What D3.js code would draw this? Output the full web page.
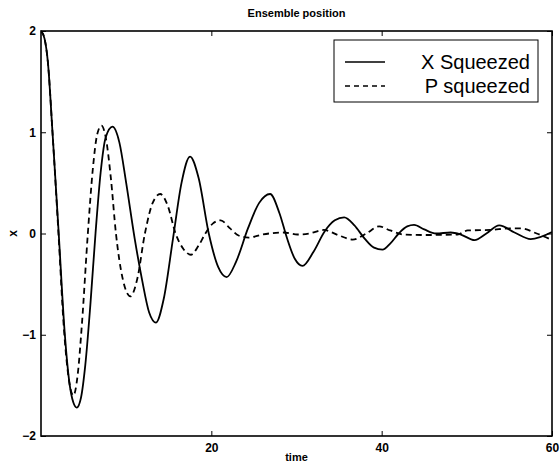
<!DOCTYPE html>
<html><head><meta charset="utf-8">
<script src="https://cdn.jsdelivr.net/npm/d3@7"></script>
<style>body{margin:0;background:#fff}svg{display:block;font-family:"Liberation Sans",Arial,sans-serif}</style>
</head><body><svg id="c" width="560" height="465"></svg>
<script>
const title = "Ensemble position";
const xLabel = "time";
const yLabel = "x";
const seriesNames = ["X Squeezed", "P squeezed"];
const xTicks = [20, 40, 60];
const yTicks = [-2, -1, 0, 1, 2];

const xSqT = [0,0.4,0.8,1.35,2.08,2.8,3.3,3.8,4.2,4.7,5.2,5.8,6.4,7.0,7.6,8.4,9.2,10.0,11.0,11.85,12.7,13.5,14.4,15.5,16.5,17.5,18.5,19.7,20.8,21.8,22.9,24.3,25.6,26.9,28.0,28.9,29.8,30.7,32.0,33.3,34.5,35.6,36.8,38.0,39.1,40.1,41.0,42.0,43.0,43.8,45.0,46.4,48.1,49.3,50.9,52.3,53.8,55.6,57.5,60];
const xSqV = [2.0,1.93,1.7,1.0,0.0,-1.0,-1.45,-1.67,-1.72,-1.62,-1.3,-0.7,0.0,0.6,0.95,1.055,0.9,0.5,-0.05,-0.45,-0.78,-0.88,-0.65,-0.05,0.5,0.76,0.55,0.0,-0.33,-0.43,-0.28,0.05,0.3,0.39,0.2,-0.05,-0.25,-0.32,-0.18,0.02,0.13,0.16,0.08,-0.05,-0.14,-0.16,-0.1,0.0,0.07,0.085,0.04,0.0,0.01,-0.01,-0.065,0.0,0.08,0.01,-0.055,0.015];

const pSqT = [0,0.4,0.8,1.35,2.05,2.7,3.2,3.8,4.3,4.8,5.5,6.1,6.6,7.1,7.6,8.2,8.8,9.6,10.5,11.3,12.2,13.1,14.0,14.9,15.8,16.7,17.6,18.5,19.3,20.2,21.1,22.2,23.2,24.4,26.0,28.5,30.1,31.5,33.2,35.0,36.6,38.2,39.7,41.0,42.6,45.0,48.9,50.1,52.8,55.0,56.4,58.2,60];
const pSqV = [2.0,1.93,1.7,1.0,0.0,-0.95,-1.4,-1.6,-1.4,-0.9,0.0,0.65,0.98,1.065,0.95,0.55,0.0,-0.45,-0.62,-0.45,0.0,0.3,0.39,0.27,0.0,-0.15,-0.21,-0.12,0.0,0.1,0.13,0.05,-0.02,-0.04,-0.01,0.01,-0.01,0.0,0.035,-0.02,-0.06,0.0,0.07,0.03,-0.01,-0.015,-0.01,0.03,0.035,0.05,0.05,0.0,-0.065];

const svg = d3.select("#c");
const L = 41, R = 552, T = 31, B = 436;
const x = d3.scaleLinear().domain([0, 60]).range([L, R]);
const y = d3.scaleLinear().domain([-2, 2]).range([B, T]);

const line = d3.line().x(d => x(d[0])).y(d => y(d[1])).curve(d3.curveMonotoneX);
const clip = svg.append("clipPath").attr("id","pc").append("rect").attr("x",L).attr("y",T-2).attr("width",R-L).attr("height",B-T+4);

const g = svg.append("g").attr("clip-path","url(#pc)");
g.append("path").datum(xSqT.map((t,i)=>[t,xSqV[i]])).attr("d", line)
  .attr("fill","none").attr("stroke","#000").attr("stroke-width",1.8);
g.append("path").datum(pSqT.map((t,i)=>[t,pSqV[i]])).attr("d", line)
  .attr("fill","none").attr("stroke","#000").attr("stroke-width",1.8).attr("stroke-dasharray","6,4");

// axes
const fmt = d => d < 0 ? "\u2212" + Math.abs(d) : String(d);
const axB = svg.append("g").attr("transform",`translate(0,${B})`)
  .call(d3.axisBottom(x).tickValues(xTicks).tickSizeInner(-5).tickSizeOuter(0).tickPadding(8).tickFormat(fmt));
const axT = svg.append("g").attr("transform",`translate(0,${T})`)
  .call(d3.axisTop(x).tickValues(xTicks).tickSizeInner(-5).tickSizeOuter(0).tickFormat(""));
const axL = svg.append("g").attr("transform",`translate(${L},0)`)
  .call(d3.axisLeft(y).tickValues(yTicks).tickSizeInner(-5).tickSizeOuter(0).tickPadding(8).tickFormat(fmt));
const axR = svg.append("g").attr("transform",`translate(${R},0)`)
  .call(d3.axisRight(y).tickValues(yTicks).tickSizeInner(-5).tickSizeOuter(0).tickFormat(""));
[axB,axT,axL,axR].forEach(a => {
  a.select(".domain").remove();
  a.selectAll("line").attr("stroke","#000").attr("stroke-width",1);
  a.selectAll("text").attr("font-size",12).attr("font-weight","bold").attr("fill","#000")
    .attr("font-family","'Liberation Sans',Arial,sans-serif");
});
axL.selectAll("text").attr("x", -5);
axB.selectAll("text").attr("dy","0.9em").attr("y",5);
svg.append("rect").attr("x",L).attr("y",T).attr("width",R-L).attr("height",B-T)
  .attr("fill","none").attr("stroke","#000").attr("stroke-width",1.6);

svg.append("text").attr("x",(L+R)/2).attr("y",17).attr("text-anchor","middle")
  .attr("font-size",11).attr("font-weight","bold").text(title);
svg.append("text").attr("x",(L+R)/2).attr("y",461).attr("text-anchor","middle")
  .attr("font-size",11).attr("font-weight","bold").text(xLabel);
svg.append("text").attr("transform",`translate(17,${(T+B)/2}) rotate(-90)`).attr("text-anchor","middle")
  .attr("font-size",12).attr("font-weight","bold").text(yLabel);

// legend
const lg = svg.append("g");
lg.append("rect").attr("x",334).attr("y",40).attr("width",204).attr("height",62)
  .attr("fill","#fff").attr("stroke","#000").attr("stroke-width",1);
seriesNames.forEach((n,i) => {
  const yy = 62 + i*24;
  lg.append("line").attr("x1",345).attr("x2",385).attr("y1",yy).attr("y2",yy)
    .attr("stroke","#000").attr("stroke-width",1.6).attr("stroke-dasharray", i ? "5,4" : null);
  lg.append("text").attr("x",530).attr("y",yy+7).attr("text-anchor","end")
    .attr("font-size",20).text(n);
});
</script></body></html>
